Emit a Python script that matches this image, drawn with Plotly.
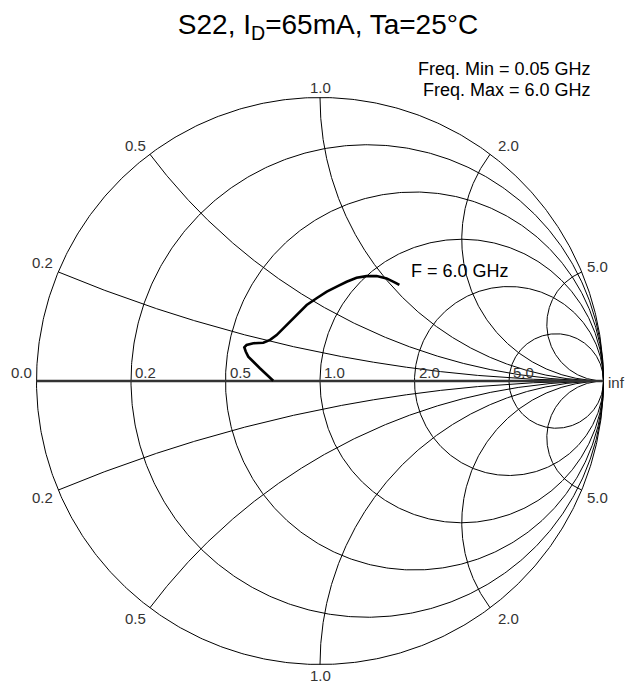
import numpy as np
import plotly.graph_objects as go

# ---- data (reflection coefficient) ----
gamma_re = [-0.165, -0.188, -0.212, -0.235, -0.253, -0.262, -0.267, -0.259, -0.235, -0.200,
            -0.176, -0.153, -0.117, -0.082, -0.047, -0.012, 0.024, 0.059, 0.094, 0.129,
            0.164, 0.200, 0.235, 0.265, 0.280]
gamma_im = [0.001, 0.021, 0.045, 0.068, 0.086, 0.104, 0.119, 0.127, 0.133, 0.135,
            0.145, 0.162, 0.198, 0.233, 0.268, 0.292, 0.315, 0.333, 0.350, 0.364,
            0.370, 0.370, 0.362, 0.347, 0.339]

resistance_ticks = [0.2, 0.5, 1.0, 2.0, 5.0]
reactance_ticks = [0.2, 0.5, 1.0, 2.0, 5.0]
resistance_labels = ["0.2", "0.5", "1.0", "2.0", "5.0"]
reactance_labels = ["0.2", "0.5", "1.0", "2.0", "5.0"]

title_text = "S22, I<sub>D</sub>=65mA, Ta=25°C"
freq_min_text = "Freq. Min = 0.05 GHz"
freq_max_text = "Freq. Max = 6.0 GHz"
marker_text = "F = 6.0 GHz"

W, H = 633, 684
CX, CY, R = 320.0, 381.0, 283.5
xr = [-CX / R, (W - CX) / R]
yr = [(CY - H) / R, CY / R]


def to_gamma(z):
    return (z - 1) / (z + 1)


# grid curves
gx, gy = [], []
th = np.linspace(0, 2 * np.pi, 721)
gx += list(np.cos(th)) + [None]
gy += list(np.sin(th)) + [None]
for r in resistance_ticks:
    c = r / (1 + r)
    rad = 1 / (1 + r)
    gx += list(c + rad * np.cos(th)) + [None]
    gy += list(rad * np.sin(th)) + [None]
t = np.linspace(0, np.pi / 2, 800)[:-1]
rr = np.append(np.tan(t), 1e7)
for v in reactance_ticks:
    for s in (1, -1):
        g = to_gamma(rr + 1j * s * v)
        gx += list(g.real) + [None]
        gy += list(g.imag) + [None]

fig = go.Figure()
fig.add_trace(go.Scatter(x=gx, y=gy, mode="lines", line=dict(color="black", width=1),
                         hoverinfo="skip", showlegend=False))
fig.add_trace(go.Scatter(x=[-1, 1], y=[0, 0], mode="lines", line=dict(color="#333333", width=2.6),
                         hoverinfo="skip", showlegend=False))
fig.add_trace(go.Scatter(x=gamma_re, y=gamma_im, mode="lines",
                         line=dict(color="black", width=2.6),
                         showlegend=False))

lab_font = dict(family="Liberation Sans, Arial, sans-serif", size=15, color="#333333")
ann = []
# real axis labels
ann.append(dict(x=-1, y=0, text="0.0", xanchor="right", yanchor="middle", xshift=-3, yshift=9))
for r, lab in zip(resistance_ticks, resistance_labels):
    g = to_gamma(r)
    ann.append(dict(x=g, y=0, text=lab, xanchor="left", yanchor="middle", xshift=2, yshift=9))
ann.append(dict(x=1, y=0, text="inf", xanchor="left", yanchor="middle", xshift=2, yshift=-1))
# reactance labels
offs = {0.2: ("right", -3, 9, 7), 0.5: ("right", -2, 9, 11), 1.0: ("center", 0, 10, 11),
        2.0: ("left", 6, 9, 11), 5.0: ("left", 3, 5, 7)}
for v, lab in zip(reactance_ticks, reactance_labels):
    xa, xs, ys_top, ys_bot = offs[v]
    for s in (1, -1):
        g = to_gamma(1j * s * v)
        ann.append(dict(x=g.real, y=g.imag, text=lab, xanchor=xa, yanchor="middle",
                        xshift=xs, yshift=ys_top if s > 0 else -ys_bot))
for a in ann:
    a.update(showarrow=False, font=lab_font, xref="x", yref="y")

txt_font = dict(family="Liberation Sans, Arial, sans-serif", size=18, color="black")
ann.append(dict(x=(593 - CX) / R, y=(CY - 68.5) / R, text=freq_min_text, xanchor="right",
                yanchor="middle", showarrow=False, font=txt_font, xref="x", yref="y"))
ann.append(dict(x=(593 - CX) / R, y=(CY - 90) / R, text=freq_max_text, xanchor="right",
                yanchor="middle", showarrow=False, font=txt_font, xref="x", yref="y"))
ann.append(dict(x=gamma_re[-1], y=gamma_im[-1], text=marker_text, xanchor="left",
                yanchor="middle", xshift=10, yshift=14, showarrow=False, font=txt_font,
                xref="x", yref="y"))

fig.update_layout(
    width=W, height=H,
    margin=dict(l=0, r=0, t=0, b=0),
    paper_bgcolor="white", plot_bgcolor="white",
    xaxis=dict(range=xr, visible=False, fixedrange=True),
    yaxis=dict(range=yr, visible=False, fixedrange=True),
    annotations=ann,
    title=dict(text=title_text, x=328 / W, xanchor="center", xref="paper",
               y=1 - 24 / H, yanchor="middle", yref="paper",
               font=dict(family="Liberation Sans, Arial, sans-serif", size=28, color="black")),
)
fig.write_html("out.html", config={"displayModeBar": False},
               post_script="document.body.style.margin='0';document.body.style.overflow='hidden';")
